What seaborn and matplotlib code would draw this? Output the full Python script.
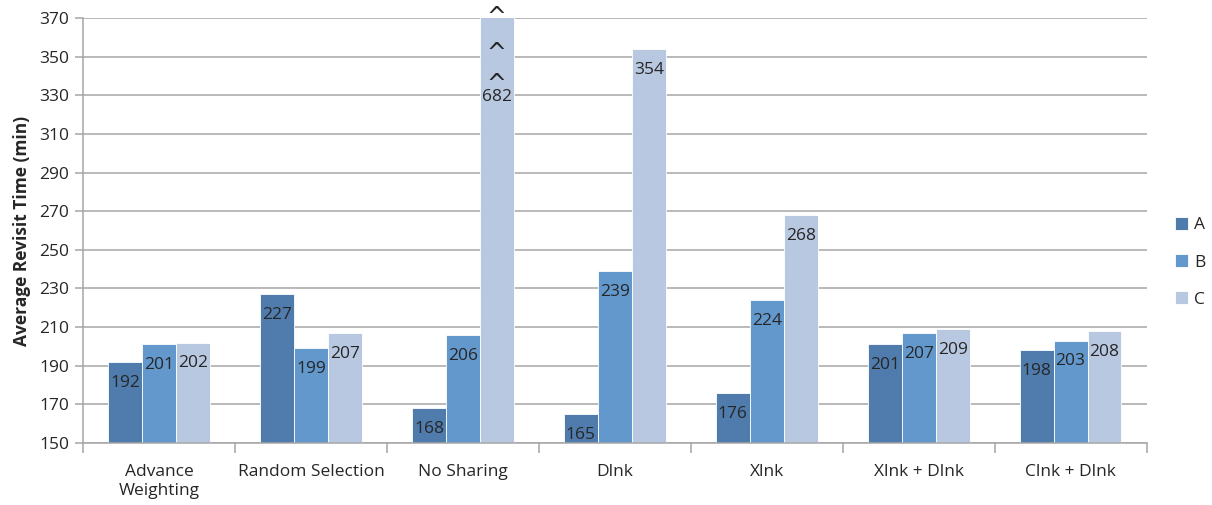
import matplotlib as mpl
mpl.use("Agg")
import matplotlib.pyplot as plt
from matplotlib.ticker import FixedLocator
import numpy as np
import pandas as pd
import seaborn as sns

sns.set_theme(style="white")
plt.rcParams["font.family"] = ["Open Sans", "DejaVu Sans"]

# data
categories = ["Advance\nWeighting", "Random Selection", "No Sharing", "Dlnk",
              "Xlnk", "Xlnk + Dlnk", "Clnk + Dlnk"]
series = ["A", "B", "C"]
vals_a = [192, 227, 168, 165, 176, 201, 198]
vals_b = [201, 199, 206, 239, 224, 207, 203]
vals_c = [202, 207, 682, 354, 268, 209, 208]
colors = ["#4F7CAC", "#6398CC", "#B9C8E1"]

ymin, ymax = 150, 370

df = pd.DataFrame({
    "category": categories * 3,
    "series": ["A"] * 7 + ["B"] * 7 + ["C"] * 7,
    "value": vals_a + vals_b + vals_c,
})

fig, ax = plt.subplots(figsize=(12.12, 5.05), dpi=100)
fig.subplots_adjust(left=0.0685, right=0.946, top=0.964, bottom=0.123)

sns.barplot(data=df, x="category", y="value", hue="series", order=categories,
            hue_order=series, palette=colors, width=0.67, saturation=1,
            ax=ax, zorder=2, linewidth=0.6, edgecolor="white")

ax.set_ylim(ymin, ymax)
ax.set_xlim(-0.5, len(categories) - 0.5)
ax.yaxis.set_major_locator(FixedLocator(np.arange(ymin, ymax + 1, 20)))
ax.grid(axis="y", color="#A6A6A6", linewidth=1.1, zorder=0)
ax.set_axisbelow(True)

for s in ["top", "right"]:
    ax.spines[s].set_visible(False)
for s in ["left", "bottom"]:
    ax.spines[s].set_color("#A6A6A6")
    ax.spines[s].set_linewidth(1.1)

ax.tick_params(axis="y", which="major", length=6, color="#A6A6A6", width=1.1,
               labelsize=12.5, pad=4, left=True)
ax.tick_params(axis="x", which="major", length=0, labelsize=12.5, pad=15)
ax.set_xticks(np.arange(-0.5, len(categories)), minor=True)
ax.tick_params(axis="x", which="minor", length=7, color="#A6A6A6", width=1.1,
               bottom=True)
for lbl in ax.get_xticklabels():
    lbl.set_linespacing(1.3)
    lbl.set_va("top")

ax.set_xlabel("")
ax.set_ylabel("Average Revisit Time (min)", fontsize=12.5, fontweight="bold",
              labelpad=6)

# value labels inside the bars
for cont in ax.containers:
    for bar, v in zip(cont, cont.datavalues):
        x = bar.get_x() + bar.get_width() / 2
        if v > ymax:
            ax.annotate(f"{v:.0f}", (x, ymax), xytext=(0, -56.5),
                        textcoords="offset points", ha="center", va="center",
                        fontsize=12.5)
            for off in (-47.5, -25, 1):
                ax.annotate("^", (x, ymax), xytext=(0, off),
                            textcoords="offset points", ha="center",
                            va="center", fontsize=17, family="DejaVu Sans",
                            annotation_clip=False, clip_on=False)
        else:
            ax.annotate(f"{v:.0f}", (x, v), xytext=(0, -15),
                        textcoords="offset points", ha="center", va="center",
                        fontsize=12.5)

leg = ax.legend(loc="center left", bbox_to_anchor=(1.012, 0.425),
                frameon=False, handlelength=0.75, handleheight=0.75,
                labelspacing=1.2, handletextpad=0.35, fontsize=12.5)

fig.savefig("out.png", dpi=100)
